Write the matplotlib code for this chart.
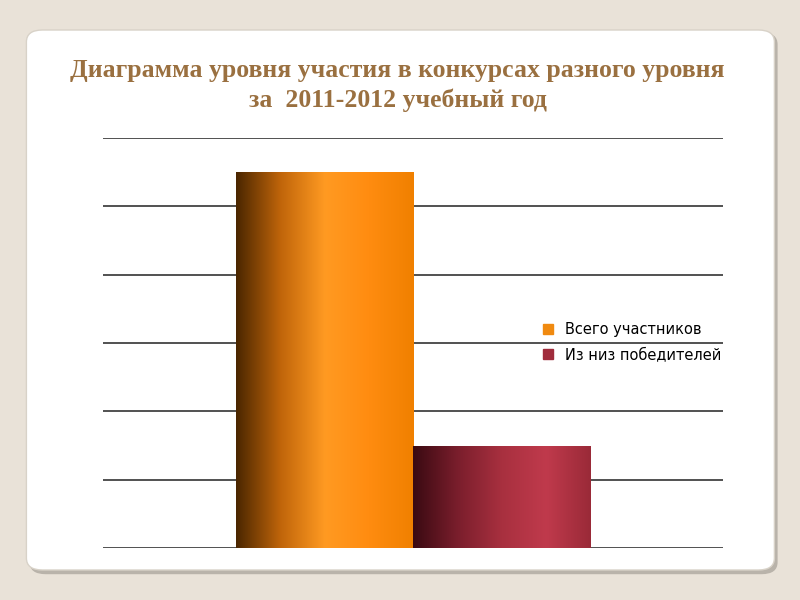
import matplotlib
matplotlib.use("Agg")
import matplotlib.pyplot as plt
import numpy as np
from matplotlib.patches import FancyBboxPatch, Patch
from matplotlib.colors import LinearSegmentedColormap

series = ["Всего участников", "Из низ победителей"]
values = [55, 15]
colors = ["#f08a10", "#a02c3c"]
title = "Диаграмма уровня участия в конкурсах разного уровня\nза  2011-2012 учебный год"

fig = plt.figure(figsize=(8, 6), dpi=100)
fig.patch.set_facecolor("#e9e2d8")
fig.patches.append(FancyBboxPatch((0.037, 0.043), 0.935, 0.903, boxstyle="round,pad=0,rounding_size=0.02",
                                  transform=fig.transFigure, fc="#b9b3aa", ec="none", zorder=-2))
fig.patches.append(FancyBboxPatch((0.033, 0.05), 0.935, 0.9, boxstyle="round,pad=0,rounding_size=0.02",
                                  transform=fig.transFigure, fc="white", ec="#d8d2c8", zorder=-1))

ax = fig.add_axes([0.129, 0.0867, 0.775, 0.683])
ax.set_zorder(2)
ax.set_facecolor("none")
ax.set_yticks(np.arange(0, 61, 10))
ax.yaxis.grid(True, color="#333333", lw=1.2)
ax.set_axisbelow(True)
for s in ax.spines.values():
    s.set_visible(False)
ax.tick_params(left=False, bottom=False, labelleft=False, labelbottom=False)

cmaps = [
    LinearSegmentedColormap.from_list("o", ["#4a2600", "#c0650a", "#ff9a22", "#ff8c10", "#f08000"]),
    LinearSegmentedColormap.from_list("r", ["#3a0a12", "#7a1e2c", "#a8303f", "#c03a4c", "#9a2a38"]),
]
positions = [-0.5, 0.5]
grad = np.linspace(0, 1, 256).reshape(1, -1)
for x, v, cm, c in zip(positions, values, cmaps, colors):
    bars = ax.bar(x, v, width=1.0, color=c, zorder=2)
    b = bars[0]
    im = ax.imshow(grad, cmap=cm, aspect="auto", extent=(x - 0.5, x + 0.5, 0, v), zorder=3)
    im.set_clip_path(b)
ax.set_xlim(-1.75, 1.75)
ax.set_ylim(0, 60)

fig.text(0.497, 0.857, title, ha="center", va="center", fontsize=18.5, fontweight="bold",
         family="Liberation Serif", color="#9a7040", linespacing=1.35)

handles = [Patch(color=c, label=s) for c, s in zip(colors, series)]
fig.legend(handles=handles, loc="center left", bbox_to_anchor=(0.662, 0.43), frameon=False,
           fontsize=10.5, handlelength=0.7, handleheight=0.7, labelspacing=0.7)

fig.savefig("out.png", dpi=100, facecolor=fig.get_facecolor())
